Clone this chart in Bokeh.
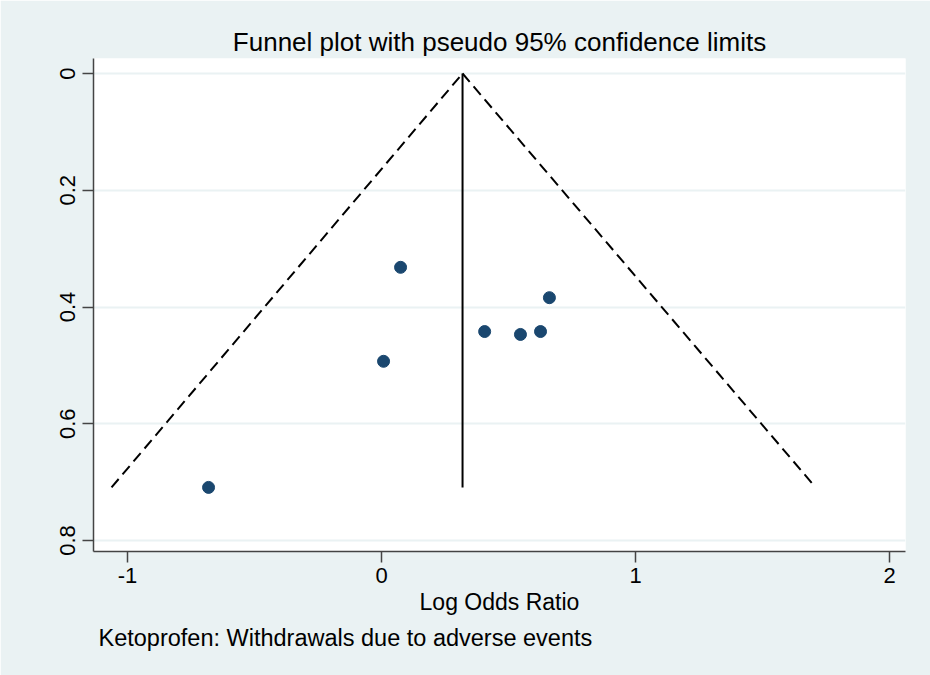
from bokeh.plotting import figure
from bokeh.models import Range1d, FixedTicker, Title
from bokeh.embed import file_html
from bokeh.resources import INLINE

# Data
log_or = [0.075, 0.008, -0.681, 0.406, 0.547, 0.626, 0.661]
se_log_or = [0.332, 0.493, 0.709, 0.442, 0.447, 0.442, 0.384]

pooled = [0.319, 0.319]
pooled_se = [0.0, 0.709]

left_limit_x = [-1.063, 0.319]
left_limit_y = [0.709, 0.0]
right_limit_x = [0.319, 1.709]
right_limit_y = [0.0, 0.709]

x_ticks = [-1, 0, 1, 2]
x_tick_labels = {-1: "-1", 0: "0", 1: "1", 2: "2"}
y_ticks = [0, 0.2, 0.4, 0.6, 0.8]
y_tick_labels = {0: "0", 0.2: "0.2", 0.4: "0.4", 0.6: "0.6", 0.8: "0.8"}

FONT = "Liberation Sans"
BG = "#EAF2F3"

p = figure(
    width=930, height=675,
    x_range=Range1d(-1.134, 2.063),
    y_range=Range1d(0.8188, -0.0257),
    output_backend="svg", toolbar_location=None,
    min_border_left=93, min_border_right=25,
    min_border_top=58, min_border_bottom=124,
)
p.border_fill_color = BG
p.background_fill_color = "white"
p.outline_line_color = None

p.title.text = "Funnel plot with pseudo 95% confidence limits"
p.title.text_font = FONT
p.title.text_font_size = "26px"
p.title.text_font_style = "normal"
p.title.text_color = "black"
p.title.align = "center"
p.title.standoff = 4

# grids
p.xgrid.visible = False
p.ygrid.ticker = FixedTicker(ticks=y_ticks)
p.ygrid.grid_line_color = BG
p.ygrid.grid_line_width = 2

# x axis
xa = p.xaxis[0]
xa.ticker = FixedTicker(ticks=x_ticks)
xa.major_label_overrides = x_tick_labels
xa.axis_label = "Log Odds Ratio"
xa.axis_label_text_font = FONT
xa.axis_label_text_font_size = "23px"
xa.axis_label_text_font_style = "normal"
xa.axis_label_text_color = "black"
xa.axis_label_standoff = 3
xa.major_label_text_font = FONT
xa.major_label_text_font_size = "22px"
xa.major_label_text_color = "black"
xa.major_label_standoff = 5
xa.major_tick_out = 11
xa.major_tick_in = 0
xa.minor_tick_out = 0
xa.minor_tick_in = 0
xa.axis_line_color = "#444444"
xa.axis_line_width = 1.5
xa.major_tick_line_color = "#444444"
xa.major_tick_line_width = 1.5

# y axis
ya = p.yaxis[0]
ya.ticker = FixedTicker(ticks=y_ticks)
ya.major_label_overrides = y_tick_labels
ya.major_label_orientation = "vertical"
ya.major_label_text_font = FONT
ya.major_label_text_font_size = "22px"
ya.major_label_text_color = "black"
ya.major_label_standoff = 7
ya.major_tick_out = 11
ya.major_tick_in = 0
ya.minor_tick_out = 0
ya.minor_tick_in = 0
ya.axis_line_color = "#444444"
ya.axis_line_width = 1.5
ya.major_tick_line_color = "#444444"
ya.major_tick_line_width = 1.5

# funnel limits
p.line(left_limit_x, left_limit_y, line_color="black", line_width=2, line_dash="11 6")
p.line(right_limit_x, right_limit_y, line_color="black", line_width=2, line_dash="11 6")
# pooled estimate
p.line(pooled, pooled_se, line_color="black", line_width=2)

# studies
p.scatter(log_or, se_log_or, size=12, fill_color="#1A476F", line_color="#1A476F")

note = Title(text="Ketoprofen: Withdrawals due to adverse events", align="left",
             text_font=FONT, text_font_size="23.5px", text_font_style="normal",
             text_color="black", offset=5)
p.add_layout(note, "below")

open("out.html", "w").write(file_html(p, INLINE))
